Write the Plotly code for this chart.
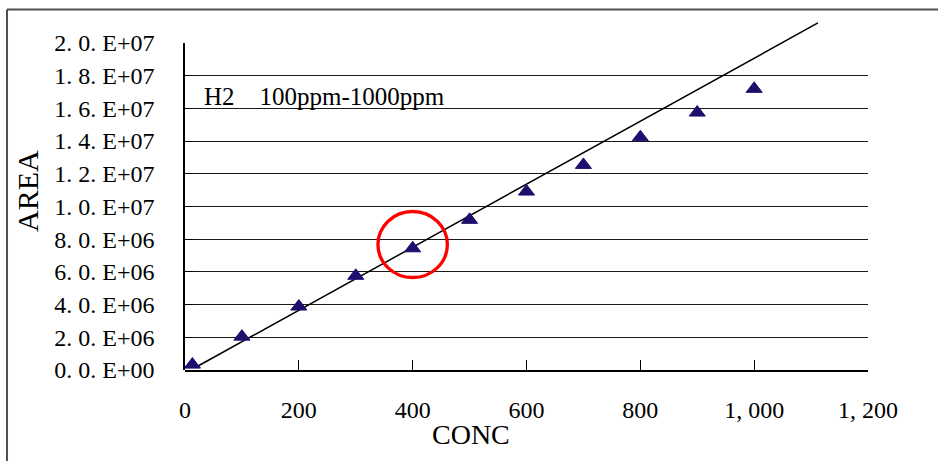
import plotly.graph_objects as go

# ---- data ----
conc = [13, 100, 200, 300, 400, 500, 600, 700, 800, 900, 1000]
area = [3.3e5, 2.04e6, 3.88e6, 5.76e6, 7.44e6, 9.18e6, 1.091e7, 1.254e7, 1.423e7, 1.574e7, 1.719e7]

trend_x = [23, 1112]
trend_y = [2.45e5, 2.122e7]

x_tickvals = [0, 200, 400, 600, 800, 1000, 1200]
x_ticktext = ["0", "200", "400", "600", "800", "1, 000", "1, 200"]

y_tickvals = [0, 2e6, 4e6, 6e6, 8e6, 1e7, 1.2e7, 1.4e7, 1.6e7, 1.8e7, 2e7]
y_ticktext = ["0. 0. E+00", "2. 0. E+06", "4. 0. E+06", "6. 0. E+06", "8. 0. E+06",
              "1. 0. E+07", "1. 2. E+07", "1. 4. E+07", "1. 6. E+07", "1. 8. E+07", "2. 0. E+07"]
grid_vals = [2e6, 4e6, 6e6, 8e6, 1e7, 1.2e7, 1.4e7, 1.6e7, 1.8e7]

y_max_axis = 2e7
y_max_plot = 2.14e7

FONT = "Liberation Serif"

fig = go.Figure()

fig.add_trace(go.Scatter(
    x=trend_x, y=trend_y, mode="lines",
    line=dict(color="black", width=1.5),
    xaxis="x", yaxis="y", showlegend=False, hoverinfo="skip"))

fig.add_trace(go.Scatter(
    x=conc, y=area, mode="markers",
    marker=dict(symbol="triangle-up", size=14, color="#1e0f6e",
                line=dict(color="#1e0f6e", width=1)),
    xaxis="x", yaxis="y2", cliponaxis=False, showlegend=False))

fig.update_layout(
    width=938, height=461,
    margin=dict(l=185, r=70, t=20, b=91, autoexpand=False),
    paper_bgcolor="white", plot_bgcolor="rgba(0,0,0,0)",
    font=dict(family=FONT, color="black", size=24),
    xaxis=dict(
        range=[0, 1200], tickmode="array", tickvals=x_tickvals, ticktext=x_ticktext,
        showline=True, linecolor="black", linewidth=1.5,
        ticks="inside", ticklen=10, tickcolor="black", tickwidth=1.2,
        showgrid=False, zeroline=False, anchor="y", automargin=False,
        tickfont=dict(family=FONT, size=24, color="black"),
        ticklabelstandoff=17,
    ),
    yaxis=dict(
        range=[0, y_max_plot], domain=[0, 1], tickmode="array", tickvals=grid_vals,
        showticklabels=False, ticks="", showline=False, zeroline=False, automargin=False,
        showgrid=True, gridcolor="#1a1a1a", gridwidth=1.4,
    ),
    yaxis2=dict(
        range=[0, y_max_axis], domain=[0, y_max_axis / y_max_plot], anchor="x",
        tickmode="array", tickvals=y_tickvals, ticktext=y_ticktext,
        showline=True, linecolor="black", linewidth=1.5,
        ticks="inside", ticklen=8, tickcolor="black", tickwidth=1.2,
        showgrid=False, zeroline=False, automargin=False,
        tickfont=dict(family=FONT, size=24, color="black"),
        ticklabelstandoff=24,
    ),
    annotations=[
        dict(text="H2\u00a0\u00a0\u00a0\u00a0100ppm-1000ppm", xref="paper", yref="paper",
             x=0.0245, y=0.78, xanchor="left", yanchor="middle", showarrow=False,
             font=dict(family=FONT, size=25, color="black")),
        dict(text="AREA", xref="paper", yref="paper", x=-0.2306, y=0.51,
             xanchor="center", yanchor="middle", textangle=-90, showarrow=False,
             font=dict(family=FONT, size=30, color="black")),
        dict(text="CONC", xref="paper", yref="paper", x=0.4187, y=-0.1857,
             xanchor="center", yanchor="middle", showarrow=False,
             font=dict(family=FONT, size=28, color="black")),
    ],
    shapes=[
        dict(type="circle", xref="x", yref="y", x0=339, x1=461, y0=5.656e6, y1=9.69e6,
             line=dict(color="#ff0000", width=3.3), layer="above"),
        dict(type="line", xref="paper", yref="paper", x0=-0.2606, x1=1.12, y0=1.03, y1=1.03,
             line=dict(color="#505050", width=2)),
        dict(type="line", xref="paper", yref="paper", x0=-0.2606, x1=-0.2606, y0=1.03, y1=-0.3,
             line=dict(color="#505050", width=2)),
    ],
)

fig.write_html("out.html", config={"displayModeBar": False},
               post_script="document.body.style.margin='0px';document.body.style.overflow='hidden';")
